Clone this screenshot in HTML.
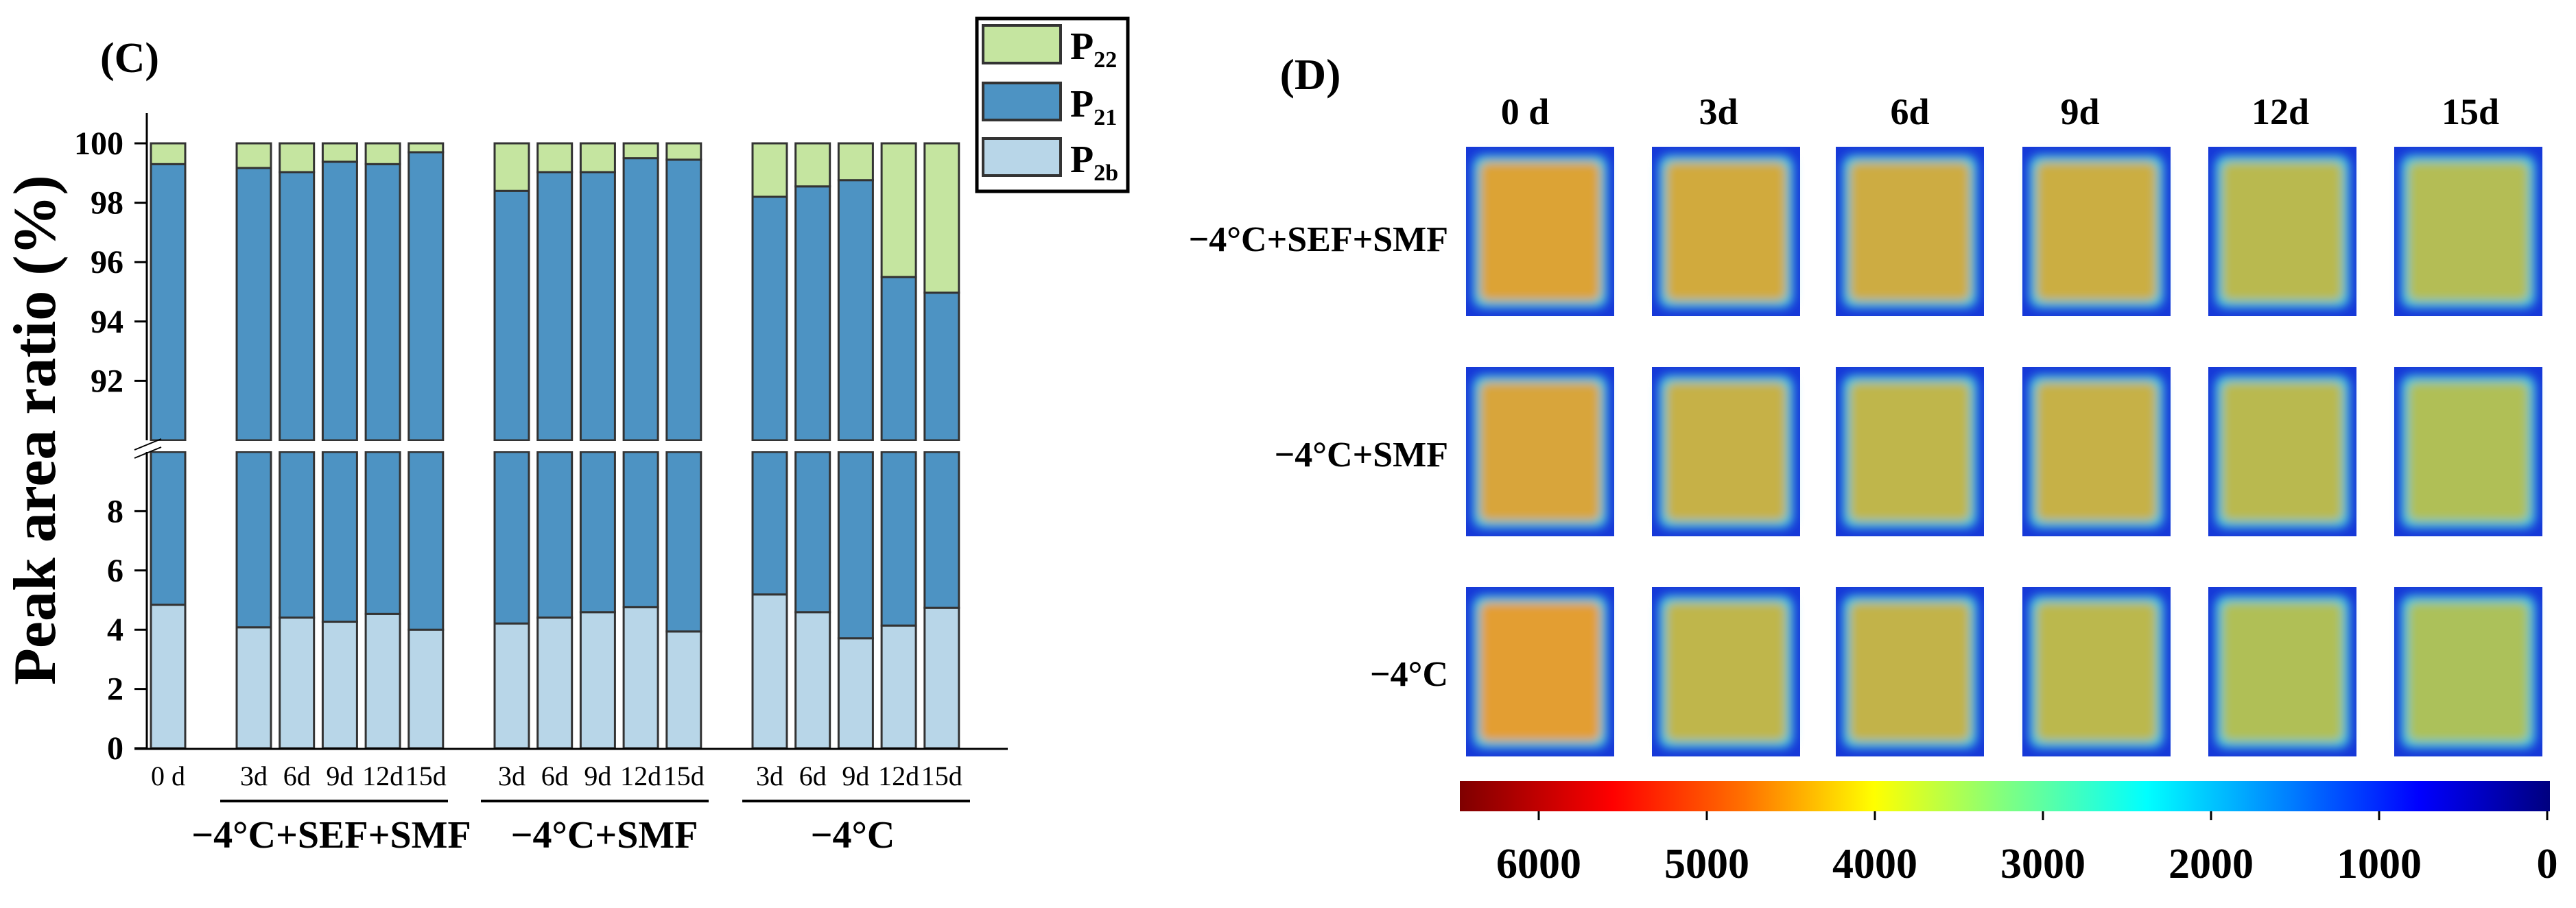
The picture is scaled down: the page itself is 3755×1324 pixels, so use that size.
<!DOCTYPE html>
<html><head><meta charset="utf-8"><style>
html,body{margin:0;padding:0;background:#fff;}
svg{display:block;}
text{font-family:"Liberation Serif",serif;}
</style></head><body>
<svg id="fig" width="3755" height="1324" viewBox="0 0 3755 1324" xmlns="http://www.w3.org/2000/svg">
<defs>
<filter id="blur" x="-20%" y="-20%" width="140%" height="140%"><feGaussianBlur stdDeviation="7"/></filter>
<linearGradient id="jet" x1="0" x2="1" y1="0" y2="0">
<stop offset="0" stop-color="#7f0000"/><stop offset="0.14" stop-color="#ff0000"/><stop offset="0.26" stop-color="#ff7000"/><stop offset="0.38" stop-color="#ffff00"/><stop offset="0.5" stop-color="#80ff80"/><stop offset="0.63" stop-color="#00ffff"/><stop offset="0.76" stop-color="#0080ff"/><stop offset="0.88" stop-color="#0000ff"/><stop offset="1" stop-color="#00007f"/>
</linearGradient>
</defs>
<text x="189" y="105" font-size="62" font-weight="bold" text-anchor="middle">(C)</text>
<text x="1910" y="130" font-size="64" font-weight="bold" text-anchor="middle">(D)</text>
<text transform="translate(80,627) rotate(-90)" font-size="88" font-weight="bold" text-anchor="middle">Peak area ratio (%)</text>
<g id="bars"></g>
<g id="axes"></g>
<g id="legend">
<rect x="1424" y="27" width="220" height="252" fill="#fff" stroke="#000" stroke-width="5"/>
<rect x="1433" y="37" width="113" height="55" fill="#c5e5a0" stroke="#333" stroke-width="4"/>
<rect x="1433" y="121" width="113" height="54" fill="#4d93c3" stroke="#333" stroke-width="4"/>
<rect x="1433" y="202" width="113" height="54" fill="#b8d6e8" stroke="#333" stroke-width="4"/>
<text x="1560" y="86" font-size="56" font-weight="bold">P<tspan font-size="34" dy="12">22</tspan></text>
<text x="1560" y="170" font-size="56" font-weight="bold">P<tspan font-size="34" dy="12">21</tspan></text>
<text x="1560" y="251" font-size="56" font-weight="bold">P<tspan font-size="34" dy="12">2b</tspan></text>
</g>
<g id="heat"></g>
</svg>
<script>
const NS='http://www.w3.org/2000/svg';
// ---- chart C data ----
const dayLabels=['0 d','3d','6d','9d','12d','15d','3d','6d','9d','12d','15d','3d','6d','9d','12d','15d'];
const groupOf=[0,1,1,1,1,1,2,2,2,2,2,3,3,3,3,3];
const groupNames=['−4°C+SEF+SMF','−4°C+SMF','−4°C'];
const p2bValues=[4.84,4.08,4.41,4.27,4.53,4.0,4.21,4.41,4.59,4.76,3.94,5.19,4.59,3.71,4.14,4.74];
const p22Values=[0.7,0.83,0.97,0.62,0.7,0.3,1.6,0.97,0.97,0.5,0.55,1.8,1.45,1.24,4.5,5.03];
const p21Values=p2bValues.map((v,i)=>100-v-p22Values[i]);
const upperTicks=[92,94,96,98,100];
const lowerTicks=[0,2,4,6,8];
// ---- heatmap D data ----
const colLabels=['0 d','3d','6d','9d','12d','15d'];
const rowLabels=['−4°C+SEF+SMF','−4°C+SMF','−4°C'];
const warmth=[[0.82,0.72,0.68,0.66,0.5,0.45],[0.78,0.62,0.55,0.62,0.5,0.42],[0.88,0.55,0.58,0.52,0.42,0.38]];
const cbarLabels=['6000','5000','4000','3000','2000','1000','0'];

function el(tag,attrs,parent){const e=document.createElementNS(NS,tag);for(const k in attrs)e.setAttribute(k,attrs[k]);parent.appendChild(e);return e;}
const yUpper=v=>209+(100-v)*43.3;
const yLower=v=>1091-v*43.2;
const gapTop=yUpper(90), gapBot=yLower(10);
function barX(i){const g=groupOf[i];if(g===0)return 220;const k=i-1-(g-1)*5;return 345+(g-1)*376+k*62.7;}
const BW=50;
const bars=document.getElementById('bars');
for(let i=0;i<dayLabels.length;i++){
  const x=barX(i);
  const a=p2bValues[i], b=a+p21Values[i];
  const r1=el('rect',{x:x,y:yLower(a),width:BW,height:yLower(0)-yLower(a),fill:'#b8d6e8',stroke:'#333','stroke-width':3},bars);
  
  
  const r2=el('rect',{x:x,y:gapBot,width:BW,height:yLower(a)-gapBot,fill:'#4d93c3',stroke:'#333','stroke-width':3},bars);
  
  
  const r3=el('rect',{x:x,y:yUpper(b),width:BW,height:gapTop-yUpper(b),fill:'#4d93c3',stroke:'#333','stroke-width':3},bars);
  
  
  const r4=el('rect',{x:x,y:yUpper(100),width:BW,height:yUpper(b)-yUpper(100),fill:'#c5e5a0',stroke:'#333','stroke-width':3},bars);
  
  
  const t=el('text',{x:x+BW/2,y:1145,'font-size':40,'text-anchor':'middle'},bars);
  t.textContent=dayLabels[i];
  
  
}
const gapR=el('rect',{x:200,y:gapTop+1,width:1280,height:gapBot-gapTop-2,fill:'#fff'},bars);


const axes=document.getElementById('axes');
el('line',{x1:214,y1:165,x2:214,y2:gapTop,stroke:'#000','stroke-width':3},axes);
el('line',{x1:214,y1:gapBot,x2:214,y2:1092,stroke:'#000','stroke-width':3},axes);
el('line',{x1:196,y1:1092,x2:1469,y2:1092,stroke:'#000','stroke-width':3},axes);
el('line',{x1:196,y1:gapTop+14,x2:235,y2:gapTop-2,stroke:'#000','stroke-width':2},axes);
el('line',{x1:196,y1:gapBot+9,x2:235,y2:gapBot-7,stroke:'#000','stroke-width':2},axes);
upperTicks.forEach(v=>{const y=yUpper(v);el('line',{x1:196,y1:y,x2:214,y2:y,stroke:'#000','stroke-width':3},axes);
  const t=el('text',{x:180,y:y+16,'font-size':48,'font-weight':'bold','text-anchor':'end'},axes);t.textContent=v;
  
  });
lowerTicks.forEach(v=>{const y=yLower(v);el('line',{x1:196,y1:y,x2:214,y2:y,stroke:'#000','stroke-width':3},axes);
  const t=el('text',{x:180,y:y+16,'font-size':48,'font-weight':'bold','text-anchor':'end'},axes);t.textContent=v;
  
  });
const ul=[[321,653],[701,1033],[1082,1414]];
const gc=[483,881,1243];
groupNames.forEach((n,g)=>{
  const l=el('line',{x1:ul[g][0],y1:1168,x2:ul[g][1],y2:1168,stroke:'#000','stroke-width':4},axes);
  
  
  const t=el('text',{x:gc[g],y:1236,'font-size':56,'font-weight':'bold','text-anchor':'middle'},axes);
  t.textContent=n;
  
  
});
// ---- heatmap ----
const heat=document.getElementById('heat');
const colX=[2137,2408,2676,2948,3219,3490];
const rowY=[214,535,856];
const IW=216, IH=247;
function mix(c1,c2,t){return 'rgb('+c1.map((c,i)=>Math.round(c+(c2[i]-c)*t)).join(',')+')';}
const cool=[130,220,120], hot=[240,150,40];
const headX=[2223,2505,2784,3032,3324,3601];
colLabels.forEach((c,j)=>{const t=el('text',{x:headX[j],y:181,'font-size':54,'font-weight':'bold','text-anchor':'middle'},heat);t.textContent=c;
  
  });
const rowLabY=[366,680,1000];
rowLabels.forEach((r,i)=>{const t=el('text',{x:2111,y:rowLabY[i],'font-size':52,'font-weight':'bold','text-anchor':'end'},heat);t.textContent=r;
  
  });
for(let i=0;i<3;i++)for(let j=0;j<6;j++){
  const g=el('g',{},heat);
  
  
  const x=colX[j], y=rowY[i];
  el('rect',{x:x,y:y,width:IW,height:IH,fill:'#1638d8'},g);
  const inner=el('g',{filter:'url(#blur)'},g);
  el('rect',{x:x+10,y:y+12,width:IW-20,height:IH-24,rx:16,fill:'#3cc8e0'},inner);
  el('rect',{x:x+20,y:y+22,width:IW-40,height:IH-44,rx:12,fill:mix(cool,hot,warmth[i][j])},inner);
}
const cb=el('rect',{x:2128,y:1139,width:1589,height:44,fill:'url(#jet)'},heat);


cbarLabels.forEach((l,k)=>{const x=2243+k*245;
  el('line',{x1:x,y1:1183,x2:x,y2:1196,stroke:'#000','stroke-width':3},heat);
  const t=el('text',{x:x,y:1280,'font-size':62,'font-weight':'bold','text-anchor':'middle'},heat);t.textContent=l;
  
  });
</script>
</body></html>
